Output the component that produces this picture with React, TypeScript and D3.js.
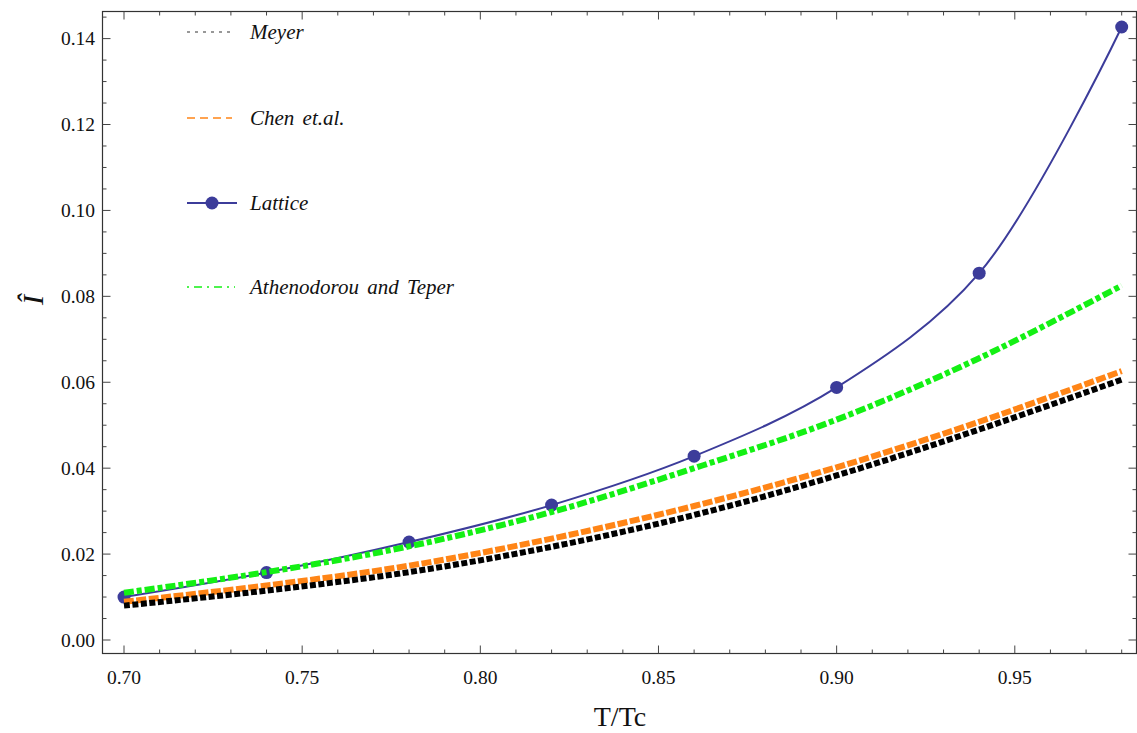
import React from 'react';
import * as d3 from 'd3';

// T/Tc grid shared by all curves
const temps = [0.70, 0.74, 0.78, 0.82, 0.86, 0.90, 0.94, 0.98];
const lattice = [0.0100, 0.0157, 0.0228, 0.0314, 0.0428, 0.0588, 0.0854, 0.1427];
const athenodorou = [0.0110, 0.0158, 0.0218, 0.0298, 0.0400, 0.0513, 0.0656, 0.0825];
const chen = [0.0089, 0.0127, 0.0173, 0.0236, 0.0312, 0.0402, 0.0508, 0.0626];
const meyer = [0.0080, 0.0115, 0.0158, 0.0217, 0.0291, 0.0383, 0.0490, 0.0606];

const xMajor = [0.70, 0.75, 0.80, 0.85, 0.90, 0.95];
const yMajor = [0.00, 0.02, 0.04, 0.06, 0.08, 0.10, 0.12, 0.14];
const legendLabels = ['Meyer', 'Chen et.al.', 'Lattice', 'Athenodorou and Teper'];

const W = 1137;
const H = 733;
const frame = { left: 102.5, right: 1136.5, top: 11.5, bottom: 653.5 };

const LATTICE_COLOR = '#3c3c9a';
const CHEN_COLOR = '#ff8517';
const ATH_COLOR = '#14f014';
const FONT = '"Liberation Serif", "Times New Roman", serif';

const App = () => {
  const x = d3.scaleLinear().domain([0.70, 0.95]).range([124, 1014.8]);
  const y = d3.scaleLinear().domain([0, 0.14]).range([640, 38.6]);

  const xMinor = d3.range(70, 99).map(d => d / 100).filter(v => x(v) < frame.right - 1);
  const yMinor = d3.range(0, 30).map(d => d * 0.005).filter(v => y(v) > frame.top + 1);

  const makeLine = (vals: number[]) =>
    d3.line<number>()
      .x((_, i) => x(temps[i]))
      .y(d => y(d))
      .curve(d3.curveCatmullRom.alpha(0.5))(vals) || '';

  const tickColor = '#444';
  const majorLen = 8;
  const minorLen = 4;

  const legendY = [32, 118, 203, 287];

  return (
    <svg width={W} height={H} style={{ position: 'absolute', left: 0, top: 0, background: '#fff' }}>
      {/* frame */}
      <rect x={frame.left} y={frame.top} width={frame.right - frame.left} height={frame.bottom - frame.top}
        fill="none" stroke="#333" strokeWidth={1.2} />

      {/* x ticks bottom + top */}
      {xMinor.map(v => {
        const major = xMajor.some(m => Math.abs(m - v) < 1e-6);
        const len = major ? majorLen : minorLen;
        return (
          <g key={'xt' + v}>
            <line x1={x(v)} x2={x(v)} y1={frame.bottom} y2={frame.bottom - len} stroke={tickColor} />
            <line x1={x(v)} x2={x(v)} y1={frame.top} y2={frame.top + len} stroke={tickColor} />
          </g>
        );
      })}
      {/* y ticks left + right */}
      {yMinor.map(v => {
        const major = yMajor.some(m => Math.abs(m - v) < 1e-6);
        const len = major ? majorLen : minorLen;
        return (
          <g key={'yt' + v}>
            <line x1={frame.left} x2={frame.left + len} y1={y(v)} y2={y(v)} stroke={tickColor} />
            <line x1={frame.right} x2={frame.right - len} y1={y(v)} y2={y(v)} stroke={tickColor} />
          </g>
        );
      })}

      {/* tick labels */}
      {xMajor.map(v => (
        <text key={'xl' + v} x={x(v)} y={684} textAnchor="middle" fontFamily={FONT} fontSize={19.5} fill="#111">
          {d3.format('.2f')(v)}
        </text>
      ))}
      {yMajor.map(v => (
        <text key={'yl' + v} x={95} y={y(v) + 6.5} textAnchor="end" fontFamily={FONT} fontSize={19.5} fill="#111">
          {d3.format('.2f')(v)}
        </text>
      ))}

      {/* axis titles */}
      <text x={620} y={726} textAnchor="middle" fontFamily={FONT} fontSize={28} fill="#111">T/Tc</text>
      <text transform="translate(43,300) rotate(-90)" textAnchor="middle" fontFamily={FONT} fontSize={30}
        fontStyle="italic" fill="#111">Î</text>

      {/* curves */}
      <path d={makeLine(lattice)} fill="none" stroke={LATTICE_COLOR} strokeWidth={2} />
      {lattice.map((v, i) => (
        <circle key={'lp' + i} cx={x(temps[i])} cy={y(v)} r={6.5} fill={LATTICE_COLOR} />
      ))}
      <path d={makeLine(athenodorou)} fill="none" stroke={ATH_COLOR} strokeWidth={6}
        strokeDasharray="10,3,5,3" />
      <path d={makeLine(chen)} fill="none" stroke={CHEN_COLOR} strokeWidth={6} strokeDasharray="10,2.5" />
      <path d={makeLine(meyer)} fill="none" stroke="#000" strokeWidth={6} strokeDasharray="6,2.5" />

      {/* legend */}
      <g fontFamily={FONT} fontSize={21} fontStyle="italic" fill="#111" wordSpacing={3}>
        <line x1={187} x2={232} y1={legendY[0]} y2={legendY[0]} stroke="#333" strokeWidth={1.2} strokeDasharray="3,5" />
        <line x1={187} x2={232} y1={legendY[1]} y2={legendY[1]} stroke={CHEN_COLOR} strokeWidth={1.5} strokeDasharray="8,5" />
        <line x1={187} x2={237} y1={legendY[2]} y2={legendY[2]} stroke={LATTICE_COLOR} strokeWidth={2} />
        <circle cx={212} cy={legendY[2]} r={6.5} fill={LATTICE_COLOR} />
        <line x1={187} x2={235} y1={legendY[3]} y2={legendY[3]} stroke={ATH_COLOR} strokeWidth={1.5} strokeDasharray="2,5,8,5" />
        {legendLabels.map((t, i) => (
          <text key={t} x={250} y={legendY[i] + 7}>{t}</text>
        ))}
      </g>
    </svg>
  );
};

export default App;
